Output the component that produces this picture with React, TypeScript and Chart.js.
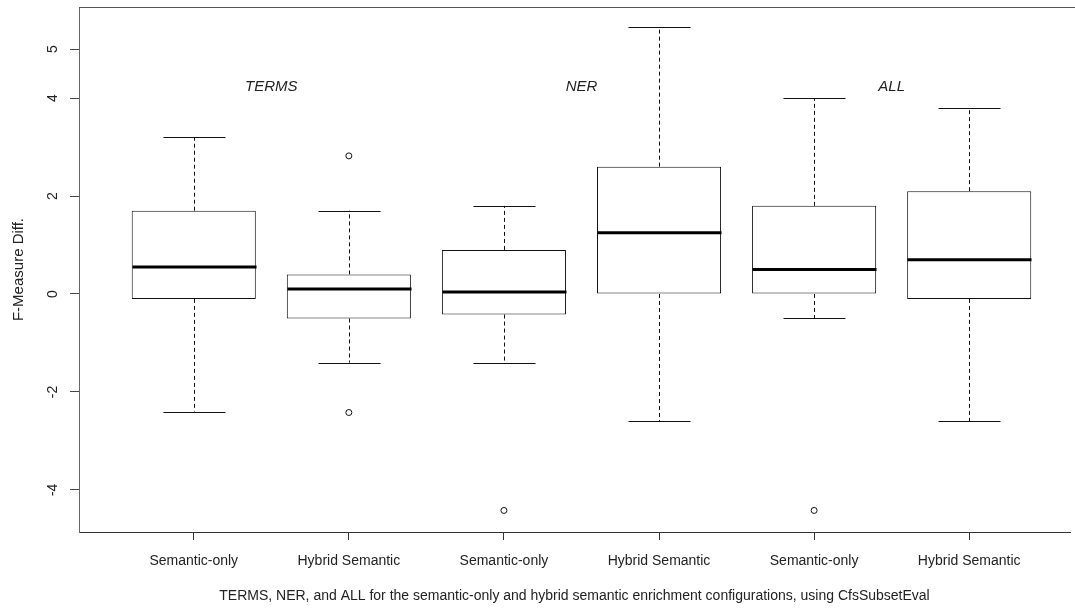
import React, { useEffect, useRef } from "react";
import { Chart, registerables } from "chart.js";

Chart.register(...registerables);

const positions = [1, 2, 3, 4, 5, 6];
const categories = [
  "Semantic-only",
  "Hybrid Semantic",
  "Semantic-only",
  "Hybrid Semantic",
  "Semantic-only",
  "Hybrid Semantic",
];
const whiskerLow = [-2.4, -1.4, -1.4, -2.6, -0.5, -2.6];
const q1 = [-0.1, -0.5, -0.42, 0.0, 0.0, -0.1];
const median = [0.55, 0.1, 0.04, 1.25, 0.5, 0.7];
const q3 = [1.7, 0.4, 0.9, 2.6, 1.8, 2.1];
const whiskerHigh = [3.2, 1.7, 1.8, 5.45, 4.0, 3.8];
const outlierX = [2, 2, 3, 5];
const outlierY = [2.82, -2.42, -4.42, -4.42];
const yTicks = [-4, -2, 0, 2, 4, 5];
const groupLabels = ["TERMS", "NER", "ALL"];
const groupLabelX = [1.5, 3.5, 5.5];
const groupLabelY = 4.22;
const xTitle =
  "TERMS, NER, and ALL for the semantic-only and hybrid semantic enrichment configurations, using CfsSubsetEval";
const yTitle = "F-Measure Diff.";

const FONT = "'Liberation Sans', Arial, Helvetica, sans-serif";

const boxPlugin = {
  id: "boxExtras",
  afterDatasetsDraw(chart: any) {
    const { ctx, scales } = chart;
    const xs = scales.x;
    const ys = scales.y;
    const unit = xs.getPixelForValue(2) - xs.getPixelForValue(1);
    ctx.save();
    ctx.strokeStyle = "#111";
    for (let i = 0; i < positions.length; i++) {
      const x = Math.round(xs.getPixelForValue(positions[i])) + 0.5;
      ctx.lineWidth = 1;
      ctx.setLineDash([4, 3]);
      ctx.beginPath();
      ctx.moveTo(x, ys.getPixelForValue(q3[i]));
      ctx.lineTo(x, ys.getPixelForValue(whiskerHigh[i]));
      ctx.moveTo(x, ys.getPixelForValue(q1[i]));
      ctx.lineTo(x, ys.getPixelForValue(whiskerLow[i]));
      ctx.stroke();
      ctx.setLineDash([]);
      const hw = unit * 0.2;
      ctx.beginPath();
      const yh = Math.round(ys.getPixelForValue(whiskerHigh[i])) + 0.5;
      const yl = Math.round(ys.getPixelForValue(whiskerLow[i])) + 0.5;
      ctx.moveTo(x - hw, yh);
      ctx.lineTo(x + hw, yh);
      ctx.moveTo(x - hw, yl);
      ctx.lineTo(x + hw, yl);
      ctx.stroke();
      const bw = unit * 0.4;
      ctx.lineWidth = 3;
      ctx.strokeStyle = "#000";
      ctx.beginPath();
      const ym = ys.getPixelForValue(median[i]);
      ctx.moveTo(x - bw, ym);
      ctx.lineTo(x + bw, ym);
      ctx.stroke();
      ctx.strokeStyle = "#111";
    }
    ctx.fillStyle = "#222";
    ctx.font = `italic 15px ${FONT}`;
    ctx.textAlign = "center";
    ctx.textBaseline = "middle";
    for (let i = 0; i < groupLabels.length; i++) {
      ctx.fillText(
        groupLabels[i],
        xs.getPixelForValue(groupLabelX[i]),
        ys.getPixelForValue(groupLabelY)
      );
    }
    ctx.restore();
  },
  afterDraw(chart: any) {
    const { ctx, scales, chartArea } = chart;
    const ys = scales.y;
    ctx.save();
    ctx.strokeStyle = "#555";
    ctx.lineWidth = 1;
    ctx.beginPath();
    ctx.moveTo(chartArea.left, chartArea.top + 0.5);
    ctx.lineTo(chart.width, chartArea.top + 0.5);
    ctx.stroke();
    ctx.fillStyle = "#222";
    ctx.font = `14px ${FONT}`;
    ctx.textAlign = "center";
    ctx.textBaseline = "middle";
    for (const t of ys.ticks) {
      const y = ys.getPixelForValue(t.value);
      ctx.save();
      ctx.translate(53, y);
      ctx.rotate(-Math.PI / 2);
      ctx.fillText(String(t.value), 0, 0);
      ctx.restore();
    }
    ctx.restore();
  },
};

export default function App() {
  const ref = useRef<HTMLCanvasElement | null>(null);
  useEffect(() => {
    if (!ref.current) return;
    Chart.defaults.font.family = FONT;
    const chart = new Chart(ref.current, {
      type: "bar",
      data: {
        datasets: [
          {
            type: "bar",
            data: positions.map((p, i) => ({ x: p, y: [q1[i], q3[i]] })) as any,
            backgroundColor: "#ffffff",
            borderColor: "#111",
            borderWidth: 1,
            borderSkipped: false,
            barPercentage: 0.8,
            categoryPercentage: 1.0,
            order: 2,
          } as any,
          {
            type: "line",
            data: outlierX.map((x, i) => ({ x, y: outlierY[i] })) as any,
            showLine: false,
            pointRadius: 3,
            pointBackgroundColor: "#ffffff",
            pointBorderColor: "#111",
            pointBorderWidth: 1,
            order: 1,
          } as any,
        ],
      },
      options: {
        responsive: false,
        animation: false,
        devicePixelRatio: 1,
        layout: { padding: { top: 7, right: 0, left: 0, bottom: 0 } },
        plugins: {
          legend: { display: false },
          tooltip: { enabled: false },
        },
        scales: {
          x: {
            type: "linear",
            offset: false,
            min: 0.26,
            max: 6.65,
            afterBuildTicks: (s: any) => {
              s.ticks = positions.map((v) => ({ value: v }));
            },
            afterFit: (s: any) => {
              s.height = 76;
            },
            ticks: {
              autoSkip: false,
              maxRotation: 0,
              minRotation: 0,
              padding: 13,
              color: "#222",
              font: { size: 14 },
              callback: (v: any) => categories[positions.indexOf(Number(v))] ?? "",
            },
            grid: {
              display: true,
              offset: false,
              drawOnChartArea: false,
              drawTicks: true,
              tickLength: 8,
              color: "#333",
            },
            border: { display: true, color: "#333" },
            title: {
              display: true,
              text: xTitle,
              color: "#222",
              font: { size: 14 },
              padding: { top: 0, bottom: 3 },
            },
          },
          y: {
            type: "linear",
            min: -4.86,
            max: 5.86,
            afterBuildTicks: (s: any) => {
              s.ticks = yTicks.map((v) => ({ value: v }));
            },
            afterFit: (s: any) => {
              s.width = 79;
            },
            ticks: { display: false },
            grid: {
              display: true,
              drawOnChartArea: false,
              drawTicks: true,
              tickLength: 9,
              color: "#444",
            },
            border: { display: true, color: "#666" },
            title: {
              display: true,
              text: yTitle,
              color: "#222",
              font: { size: 15 },
              padding: { top: 10, bottom: 0 },
            },
          },
        },
      },
      plugins: [boxPlugin],
    });
    return () => chart.destroy();
  }, []);
  return (
    <div style={{ position: "fixed", left: 0, top: 0, width: 1075, height: 608, background: "#fff" }}>
      <canvas ref={ref} width={1075} height={608} style={{ width: 1075, height: 608 }} />
    </div>
  );
}
